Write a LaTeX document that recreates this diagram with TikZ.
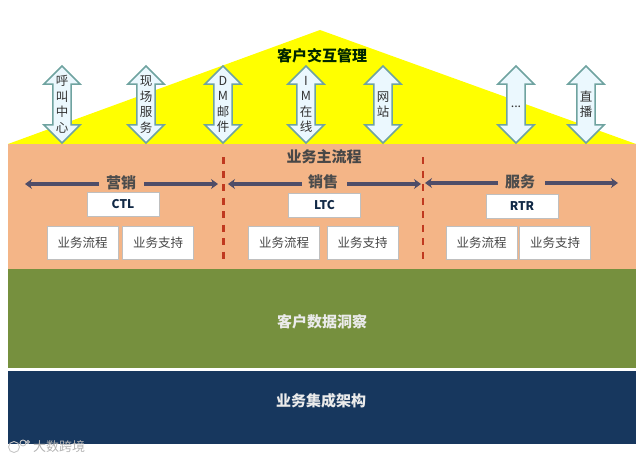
\documentclass[tikz,border=0pt]{standalone}
\usepackage{fontspec}
\setmainfont{Noto Sans CJK SC}
\usetikzlibrary{shapes.arrows,arrows.meta}
\definecolor{peach}{HTML}{F4B587}
\definecolor{roof}{HTML}{FFFF00}
\definecolor{bandgreen}{HTML}{76903E}
\definecolor{navy}{HTML}{17375E}
\definecolor{teal}{HTML}{6FA3A0}
\definecolor{flowc}{HTML}{4F4D68}
\definecolor{redd}{HTML}{C0391F}
\tikzset{
  band/.style={draw=none,inner sep=0pt,anchor=north west},
  dbl/.style={double arrow,rotate=90,draw=teal,line width=1.5pt,fill=white!92!cyan,
    minimum height=77pt,minimum width=35pt,double arrow head extend=9pt,
    double arrow tip angle=90,inner xsep=0pt,inner ysep=8.3pt,text width=0pt},
  dbltext/.style={align=center,inner sep=0pt,text=black!80,font=\fontsize{12.5}{15.5}\selectfont},
  title/.style={inner sep=0pt,font=\fontsize{15}{17}\selectfont\bfseries},
  stage/.style={title,text=black!70,font=\fontsize{15}{17}\selectfont\bfseries},
  whitelabel/.style={title,text=white!92!black},
  wbox/.style={draw=black!25,line width=0.8pt,fill=white,inner sep=0pt,text=black!72,
    minimum width=71pt,minimum height=33pt,font=\fontsize{12.5}{14}\selectfont},
  codebox/.style={wbox,minimum width=72pt,minimum height=24pt,text=navy!75!black,font=\fontsize{12}{14}\selectfont\bfseries},
  flow/.style={draw=flowc,line width=3.4pt,-{Stealth[length=7pt,width=10pt]}},
  divider/.style={draw=redd,line width=2.4pt,dash pattern=on 7pt off 6.5pt}
}
\begin{document}
\begin{tikzpicture}[x=1pt,y=-1pt]
\useasboundingbox (0,0) rectangle (640,460);
% bands
\fill[roof] (8,144) -- (320,30) -- (636,144) -- cycle;
\node[band,fill=peach,minimum width=628pt,minimum height=125pt] (main) at (8,144) {};
\node[band,fill=bandgreen,minimum width=628pt,minimum height=99pt] (data) at (8,269) {};
\node[band,fill=navy,minimum width=628pt,minimum height=73pt] (arch) at (8,371) {};
% double arrows
\node[dbl] (a1) at (62,104.5) {};
\node[dbl] (a2) at (146,104.5) {};
\node[dbl] (a3) at (223,104.5) {};
\node[dbl] (a4) at (306,104.5) {};
\node[dbl] (a5) at (383,104.5) {};
\node[dbl] (a6) at (516,104.5) {};
\node[dbl] (a7) at (586,104.5) {};
\node[dbltext] at (a1.center) {呼\\叫\\中\\心};
\node[dbltext] at (a2.center) {现\\场\\服\\务};
\node[dbltext] at (a3.center) {D\\M\\邮\\件};
\node[dbltext] at (a4.center) {I\\M\\在\\线};
\node[dbltext] at (a5.center) {网\\站};
\node[dbltext] at (516,107) {...};
\node[dbltext] at (a7.center) {直\\播};
% titles
\node[title,text=black!75!green!60!black] (tcrm) at (322,56) {客户交互管理};
\node[title,text=black!72] (tmain) at (324,157) {业务主流程};
\node[whitelabel] (tdata) at (322,322) {客户数据洞察};
\node[whitelabel] (tarch) at (321,401) {业务集成架构};
% stages
\node[stage] (s1) at (121,183) {营销};
\node[stage] (s2) at (323,182) {销售};
\node[stage] (s3) at (520,182) {服务};
\coordinate (s1l) at (25,184);
\coordinate (s1ls) at (99,184);
\coordinate (s1rs) at (144,184);
\coordinate (s1r) at (218,184);
\coordinate (s2l) at (228,184);
\coordinate (s2ls) at (302,184);
\coordinate (s2rs) at (347,184);
\coordinate (s2r) at (421,184);
\coordinate (s3l) at (425,183);
\coordinate (s3ls) at (498,183);
\coordinate (s3rs) at (545,183);
\coordinate (s3r) at (618,183);
\draw[flow] (s1ls) -- (s1l);
\draw[flow] (s1rs) -- (s1r);
\draw[flow] (s2ls) -- (s2l);
\draw[flow] (s2rs) -- (s2r);
\draw[flow] (s3ls) -- (s3l);
\draw[flow] (s3rs) -- (s3r);
% dividers
\coordinate (d1t) at (223.5,157);
\coordinate (d1b) at (223.5,264);
\coordinate (d2t) at (423,157);
\coordinate (d2b) at (423,264);
\draw[divider] (d1t) -- (d1b);
\draw[divider] (d2t) -- (d2b);
% boxes
\node[codebox] (ctl) at (123,204) {CTL};
\node[codebox] (ltc) at (324.5,205) {LTC};
\node[codebox] (rtr) at (522,206.5) {RTR};
\node[wbox] (p1) at (82.5,242.5) {业务流程};
\node[wbox] (b1) at (158,242.5) {业务支持};
\node[wbox] (p2) at (284,242.5) {业务流程};
\node[wbox] (b2) at (362.5,242.5) {业务支持};
\node[wbox] (p3) at (481.5,242.5) {业务流程};
\node[wbox] (b3) at (555,242.5) {业务支持};
% watermark
\draw[black!22,line width=0.9pt] (14,447) circle (5.5pt) (23,443) circle (3pt) (28,442) circle (1.5pt);
\node[inner sep=0pt,text=black!30,font=\fontsize{13}{15}\selectfont] (wm) at (59,447) {大数跨境};
\end{tikzpicture}
\end{document}
